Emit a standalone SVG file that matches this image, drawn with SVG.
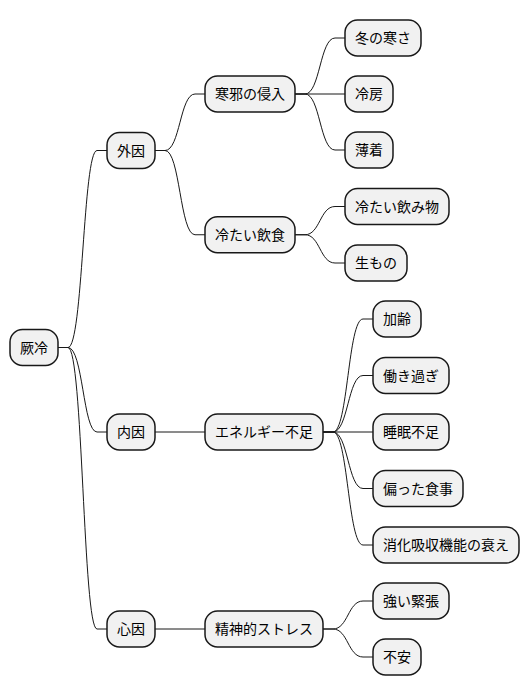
<svg xmlns="http://www.w3.org/2000/svg" width="530" height="696" viewBox="0 0 530 696">
<style>
.n rect{fill:#F1F1F1;stroke:#181818;stroke-width:1.5}
.n text{font-family:"Noto Sans CJK JP","Noto Sans CJK SC",sans-serif;font-size:14px;fill:#000000;text-anchor:middle}
#edges path{fill:none;stroke:#181818;stroke-width:1}
</style>
<rect width="530" height="696" fill="#FFFFFF"/>
<g id="edges">
<path d="M58,347.5 L68,347.5 C83,347.5 83,150.5 97,150.5 L107,150.5"/>
<path d="M58,347.5 L68,347.5 C83,347.5 83,432 97,432 L107,432"/>
<path d="M58,347.5 L68,347.5 C83,347.5 83,629 97,629 L107,629"/>
<path d="M155,150.5 L165,150.5 C180,150.5 180,94 195,94 L205,94"/>
<path d="M155,150.5 L165,150.5 C180,150.5 180,234.75 195,234.75 L205,234.75"/>
<path d="M155,432 L205,432"/>
<path d="M155,629 L205,629"/>
<path d="M295,94 L305,94 C320,94 320,38 335,38 L345,38"/>
<path d="M295,94 L345,94"/>
<path d="M295,94 L305,94 C320,94 320,150 335,150 L345,150"/>
<path d="M295,234.75 L305,234.75 C320,234.75 320,206.5 335,206.5 L345,206.5"/>
<path d="M295,234.75 L305,234.75 C320,234.75 320,263 335,263 L345,263"/>
<path d="M323,432 L333,432 C348,432 348,319 363,319 L373,319"/>
<path d="M323,432 L333,432 C348,432 348,375.5 363,375.5 L373,375.5"/>
<path d="M323,432 L373,432"/>
<path d="M323,432 L333,432 C348,432 348,488.5 363,488.5 L373,488.5"/>
<path d="M323,432 L333,432 C348,432 348,545 363,545 L373,545"/>
<path d="M323,629 L333,629 C348,629 348,601 363,601 L373,601"/>
<path d="M323,629 L333,629 C348,629 348,657 363,657 L373,657"/>
</g>
<g id="root" class="n"><rect x="10" y="329.5" width="48" height="36" rx="12.5"/><text x="34" y="352.5">厥冷</text></g>
<g id="gaiin" class="n"><rect x="107" y="132.5" width="48" height="36" rx="12.5"/><text x="131" y="155.5">外因</text></g>
<g id="naiin" class="n"><rect x="107" y="414" width="48" height="36" rx="12.5"/><text x="131" y="437">内因</text></g>
<g id="shinin" class="n"><rect x="107" y="611" width="48" height="36" rx="12.5"/><text x="131" y="634">心因</text></g>
<g id="kanja" class="n"><rect x="205" y="76" width="90" height="36" rx="12.5"/><text x="250" y="99">寒邪の侵入</text></g>
<g id="tsumetai" class="n"><rect x="205" y="216.75" width="90" height="36" rx="12.5"/><text x="250" y="239.75">冷たい飲食</text></g>
<g id="energy" class="n"><rect x="205" y="414" width="118" height="36" rx="12.5"/><text x="264" y="437">エネルギー不足</text></g>
<g id="stress" class="n"><rect x="205" y="611" width="118" height="36" rx="12.5"/><text x="264" y="634">精神的ストレス</text></g>
<g id="fuyu" class="n"><rect x="345" y="20" width="76" height="36" rx="12.5"/><text x="383" y="43">冬の寒さ</text></g>
<g id="reibo" class="n"><rect x="345" y="76" width="48" height="36" rx="12.5"/><text x="369" y="99">冷房</text></g>
<g id="usugi" class="n"><rect x="345" y="132" width="48" height="36" rx="12.5"/><text x="369" y="155">薄着</text></g>
<g id="nomimono" class="n"><rect x="345" y="188.5" width="104" height="36" rx="12.5"/><text x="397" y="211.5">冷たい飲み物</text></g>
<g id="namamono" class="n"><rect x="345" y="245" width="62" height="36" rx="12.5"/><text x="376" y="268">生もの</text></g>
<g id="karei" class="n"><rect x="373" y="301" width="48" height="36" rx="12.5"/><text x="397" y="324">加齢</text></g>
<g id="hataraki" class="n"><rect x="373" y="357.5" width="76" height="36" rx="12.5"/><text x="411" y="380.5">働き過ぎ</text></g>
<g id="suimin" class="n"><rect x="373" y="414" width="76" height="36" rx="12.5"/><text x="411" y="437">睡眠不足</text></g>
<g id="shokuji" class="n"><rect x="373" y="470.5" width="90" height="36" rx="12.5"/><text x="418" y="493.5">偏った食事</text></g>
<g id="shoka" class="n"><rect x="373" y="527" width="146" height="36" rx="12.5"/><text x="446" y="550">消化吸収機能の衰え</text></g>
<g id="kincho" class="n"><rect x="373" y="583" width="76" height="36" rx="12.5"/><text x="411" y="606">強い緊張</text></g>
<g id="fuan" class="n"><rect x="373" y="639" width="48" height="36" rx="12.5"/><text x="397" y="662">不安</text></g>
</svg>
